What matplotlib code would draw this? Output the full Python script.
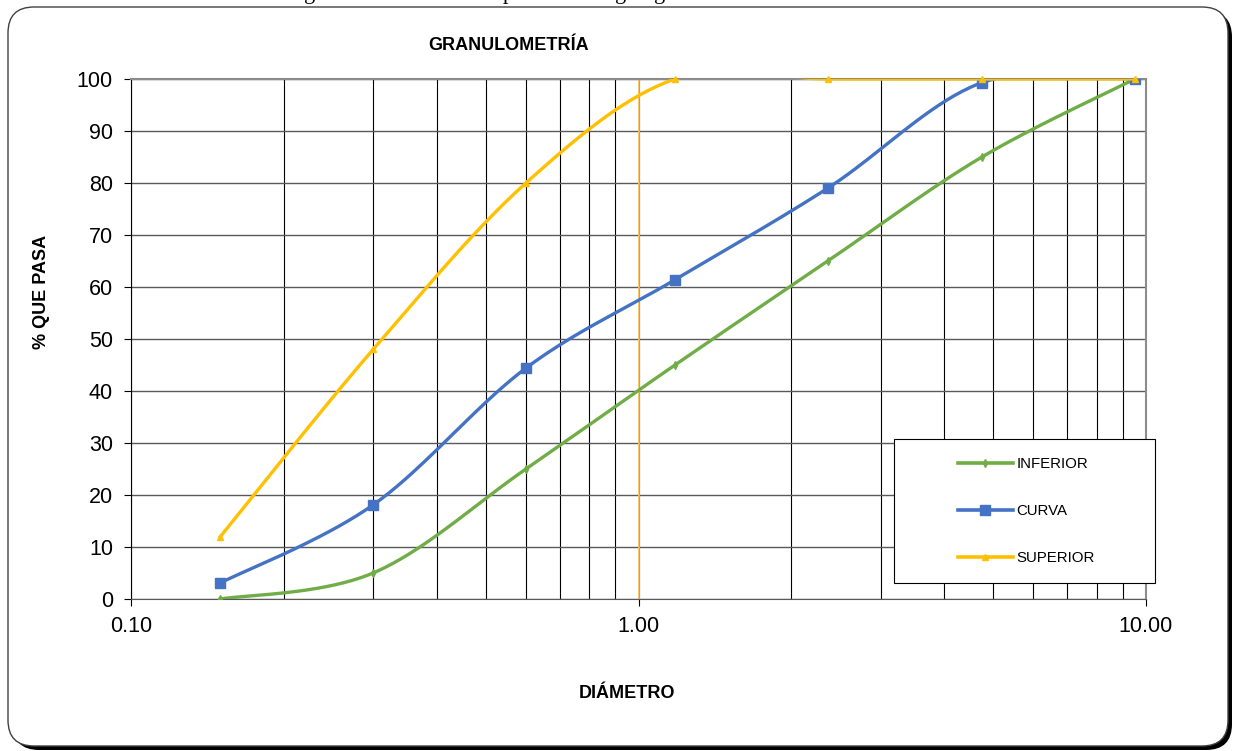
"""
Curva granulométrica: % que pasa vs diámetro (escala log), con límites
inferior / superior y la curva del ensayo. Guarda out.png.
"""
import matplotlib
matplotlib.use("Agg")
import matplotlib.pyplot as plt
import numpy as np
from matplotlib.patches import FancyBboxPatch, Rectangle
from matplotlib.ticker import FixedLocator, FixedFormatter, NullFormatter

plt.rcParams["font.family"] = ["Liberation Sans", "DejaVu Sans"]

# tamices (mm)
diametro = [0.15, 0.30, 0.60, 1.18, 2.36, 4.75, 9.50]
inferior = [0, 5, 25, 45, 65, 85, 100]
curva = [3.1, 18.1, 44.4, 61.4, 79.0, 99.3, 100]
superior = [12, 48, 80, 100, 100, 100, 100]

x_ticks = [0.1, 1.0, 10.0]
x_tick_labels = ["0.10", "1.00", "10.00"]
y_ticks = list(range(0, 101, 10))

GREEN = "#70AD47"
BLUE = "#4472C4"
YELLOW = "#FFC000"

W, H = 1237, 751


def smooth(x, y, n=40):
    # Catmull-Rom in log-x space, like Excel's "smoothed line"
    px = np.log10(np.asarray(x, float))
    py = np.asarray(y, float)
    P = np.column_stack([px, py])
    P = np.vstack([P[0], P, P[-1]])
    t = np.linspace(0, 1, n)[:, None]
    segs = []
    for i in range(1, len(P) - 2):
        p0, p1, p2, p3 = P[i - 1], P[i], P[i + 1], P[i + 2]
        c1 = p1 + (p2 - p0) / 6
        c2 = p2 - (p3 - p1) / 6
        b = ((1 - t) ** 3) * p1 + 3 * ((1 - t) ** 2) * t * c1 + 3 * (1 - t) * t ** 2 * c2 + t ** 3 * p2
        segs.append(b if i == 1 else b[1:])
    pts = np.vstack(segs)
    return 10 ** pts[:, 0], pts[:, 1]


fig = plt.figure(figsize=(W / 100, H / 100), dpi=100)

# background: rounded frame with shadow, in pixel coords
bg = fig.add_axes([0, 0, 1, 1], zorder=-1)
bg.set_xlim(0, W)
bg.set_ylim(H, 0)
bg.axis("off")
bg.add_patch(FancyBboxPatch((13, 11), 1219, 739, boxstyle="round,pad=0,rounding_size=26",
                            facecolor="black", edgecolor="black", lw=0))
bg.add_patch(FancyBboxPatch((8, 7), 1220, 739, boxstyle="round,pad=0,rounding_size=26",
                            facecolor="white", edgecolor="#404040", lw=1))
# descenders of the document line above the chart (cut off, as in the source)
for xp, ch in [(310, "g"), (508, "p"), (621, "g"), (660, "g")]:
    bg.text(xp, -1, ch, fontsize=16, family="Liberation Serif", ha="center", va="baseline")

ax = fig.add_axes([131 / W, 1 - 599 / H, 1015 / W, 520 / H])
ax.set_facecolor("white")
ax.set_xscale("log")
ax.set_xlim(0.1, 10)
ax.set_ylim(0, 100)

ax.xaxis.set_major_locator(FixedLocator(x_ticks))
ax.xaxis.set_major_formatter(FixedFormatter(x_tick_labels))
ax.xaxis.set_minor_formatter(NullFormatter())
ax.set_yticks(y_ticks)

ax.grid(True, which="major", axis="y", color="#595959", lw=1)
ax.grid(True, which="both", axis="x", color="black", lw=0.8)
ax.set_axisbelow(True)
ax.tick_params(axis="x", which="minor", length=0)
ax.tick_params(axis="x", which="major", direction="out", length=5, labelsize=15.5, pad=7, color="black")
ax.tick_params(axis="y", direction="out", length=5, labelsize=15.5, pad=8, color="black")

for s in ["top", "right"]:
    ax.spines[s].set_color("#8c8c8c")
    ax.spines[s].set_linewidth(1.5)
ax.spines["left"].set_color("black")
ax.spines["bottom"].set_color("#595959")

ax.axvline(1.0, color="#FFC04D", lw=1.2, zorder=1.5)

xs, ys = smooth(diametro, inferior)
ax.plot(xs, ys, color=GREEN, lw=2.4, zorder=3)
ax.plot(diametro, inferior, ls="none", marker="d", ms=4, color=GREEN, zorder=3)
xs, ys = smooth(diametro, curva)
ax.plot(xs, ys, color=BLUE, lw=2.4, zorder=4)
ax.plot(diametro, curva, ls="none", marker="s", ms=7, color=BLUE, zorder=4)
xs, ys = smooth(diametro, superior)
ax.plot(xs, ys, color=YELLOW, lw=2.4, zorder=5, clip_on=True)
ax.plot(diametro, superior, ls="none", marker="^", ms=5, color=YELLOW, zorder=5, clip_on=False)

ax.set_title("GRANULOMETRÍA", fontsize=13, fontweight="bold", pad=21, x=(509 - 131) / 1015)
fig.text(41 / W, 1 - 292 / H, "% QUE PASA", rotation=90, fontsize=13, fontweight="bold",
         ha="center", va="center")
fig.text(627 / W, 1 - 694 / H, "DIÁMETRO", fontsize=13, fontweight="bold", ha="center", va="center")

# legend box
fig.patches.append(Rectangle((894 / W, 1 - 583 / H), 261 / W, 144 / H, transform=fig.transFigure,
                             facecolor="white", edgecolor="black", lw=0.8, zorder=4))
handles = [
    plt.Line2D([], [], color=GREEN, lw=2.6, marker="d", ms=4),
    plt.Line2D([], [], color=BLUE, lw=2.6, marker="s", ms=7),
    plt.Line2D([], [], color=YELLOW, lw=2.6, marker="^", ms=5),
]
fig.legend(handles, ["INFERIOR", "CURVA", "SUPERIOR"], loc="center left",
           bbox_to_anchor=(958 / W, 1 - 511 / H), frameon=False, fontsize=10.8,
           handlelength=3.65, handletextpad=0.25, labelspacing=2.2, borderpad=0,
           borderaxespad=0, numpoints=1)

fig.savefig("out.png", dpi=100)
